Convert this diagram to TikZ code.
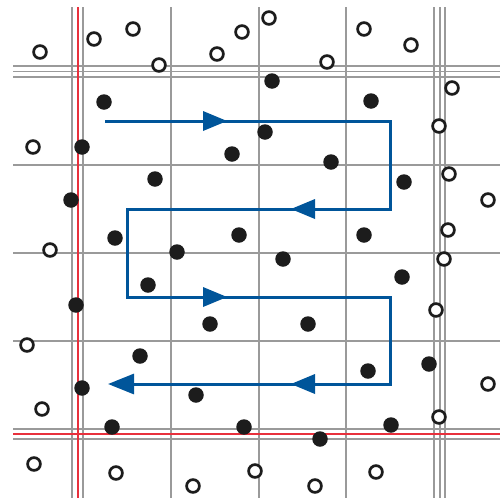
\documentclass[tikz,border=0pt]{standalone}
\usetikzlibrary{arrows.meta}
\definecolor{gridgray}{HTML}{9A9A9A}
\definecolor{gridred}{HTML}{E8303C}
\definecolor{pathblue}{HTML}{00559A}
\definecolor{dotblack}{HTML}{1C1C1C}
\tikzset{
  gridline/.style={draw=gridgray, line width=1.5pt},
  redline/.style={draw=gridred, line width=2pt},
  route/.style={draw=pathblue, line width=3pt},
  midtip/.style={fill=pathblue},
  fulldot/.style={circle, fill=dotblack, minimum size=15.5pt, inner sep=0pt},
  emptydot/.style={circle, draw=dotblack, fill=white, line width=2.7pt, minimum size=12.8pt, inner sep=0pt},
}
\begin{document}
\begin{tikzpicture}[x=1pt,y=-1pt]
\useasboundingbox (0,0) rectangle (500,498);
% grid
\foreach \x in {72,83,171,259,346,434,440,445} \draw[gridline] (\x,7) -- (\x,498);
\foreach \y in {66,71.5,77,165,253,341,429,439} \draw[gridline] (13,\y) -- (500,\y);
\draw[redline] (77.5,7) -- (77.5,498);
\draw[redline] (13,434) -- (500,434);
% route
\coordinate (p0) at (105,121);
\coordinate (p1) at (390,121);
\coordinate (p2) at (390,209);
\coordinate (p3) at (127,209);
\coordinate (p4) at (127,297);
\coordinate (p5) at (390,297);
\coordinate (p6) at (390,384);
\coordinate (p7) at (108,384);
\draw[route, -{Triangle[length=26pt,width=20pt]}] (p0) -- (p1) -- (p2) -- (p3) -- (p4) -- (p5) -- (p6) -- (p7);
\fill[midtip] (227,121) -- (203,111) -- (203,131) -- cycle;
\fill[midtip] (291,209) -- (315,199) -- (315,219) -- cycle;
\fill[midtip] (227,297) -- (203,287) -- (203,307) -- cycle;
\fill[midtip] (291,384) -- (315,374) -- (315,394) -- cycle;
% filled dots
\foreach \x/\y [count=\i] in {104/102,272/81,371/101,82/147,265/132,232/154,331/162,155/179,404/182,71/200,115/238,239/235,177/252,283/259,364/235,402/277,148/285,76/305,210/324,308/324,140/356,368/371,429/364,82/388,196/395,112/427,244/427,391/425,320/439}
  \node[fulldot] (f\i) at (\x,\y) {};
% open dots
\foreach \x/\y [count=\i] in {40/52,94/39,133/29,159/65,217/54,242/32,269/18,327/62,364/29,411/45,452/88,439/126,449/174,488/200,448/230,444/259,436/310,33/147,50/250,27/345,42/409,488/384,439/417,34/464,116/473,193/486,255/471,315/486,376/472}
  \node[emptydot] (o\i) at (\x,\y) {};
\end{tikzpicture}
\end{document}
